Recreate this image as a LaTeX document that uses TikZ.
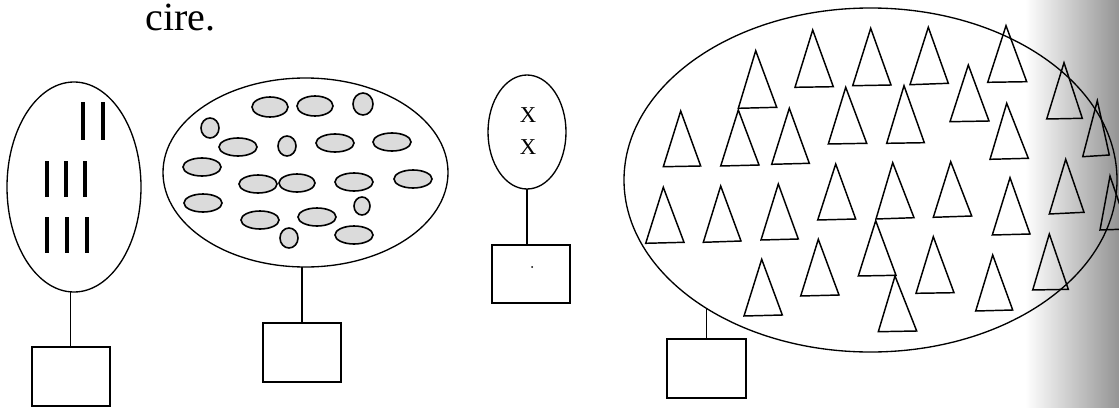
\documentclass[tikz,border=0pt]{standalone}
\usepackage{fontspec}
\setmainfont{Liberation Serif}
\usetikzlibrary{shapes.geometric}
\begin{document}
\begin{tikzpicture}[x=0.75pt,y=-0.75pt,
  bigell/.style={draw, ellipse, inner sep=0pt, outer sep=0pt, line width=1pt},
  answerbox/.style={draw, rectangle, inner sep=0pt, outer sep=0pt, line width=1.1pt, minimum width=58.5pt, minimum height=44pt},
  link/.style={line width=1.2pt},
  tally/.style={line width=2.3pt},
  blob/.style={draw, line width=1.2pt, fill=gray!28},
  tri/.style={draw, line width=1.1pt, line join=miter}
]
\useasboundingbox (0,0) rectangle (1119,407);
\clip (0,0) rectangle (1119,407);

% shaded page edge
\shade[left color=white, right color=black!42] (1025,0) rectangle (1119,407);

% heading fragment
\node[anchor=base west, inner sep=0pt, font=\fontsize{30}{34}\selectfont] (cire) at (145,31) {cire.};

% group 1: tally marks
\node[bigell, minimum width=100.5pt, minimum height=157.5pt] (e1) at (74,187) {};
\draw[tally] (83,102) -- (83,140);
\draw[tally] (103,102) -- (103,140);
\draw[tally] (47,161) -- (47,197);
\draw[tally] (66,161) -- (66,197);
\draw[tally] (85,161) -- (85,197);
\draw[tally] (47,217) -- (47,253);
\draw[tally] (67,217) -- (67,253);
\draw[tally] (87,217) -- (87,253);
\node[answerbox] (b1) at (71,376.5) {};
\draw[link] (e1.268) -- (e1.268 |- b1.north);

% group 2: grey blobs
\node[bigell, minimum width=213.75pt, minimum height=141.75pt] (e2) at (305.5,172.5) {};
\draw[blob] (270,107) ellipse [x radius=18, y radius=10];
\draw[blob] (315,106) ellipse [x radius=18, y radius=10];
\draw[blob] (363,104) ellipse [x radius=10, y radius=11];
\draw[blob] (210,128) ellipse [x radius=9, y radius=10];
\draw[blob] (238,147) ellipse [x radius=19, y radius=9];
\draw[blob] (287,146) ellipse [x radius=9, y radius=10];
\draw[blob] (335,143) ellipse [x radius=19, y radius=9];
\draw[blob] (392,142) ellipse [x radius=19, y radius=9];
\draw[blob] (202,167) ellipse [x radius=19, y radius=9];
\draw[blob] (258,184) ellipse [x radius=19, y radius=9];
\draw[blob] (297,183) ellipse [x radius=18, y radius=9];
\draw[blob] (354,182) ellipse [x radius=19, y radius=9];
\draw[blob] (413,179) ellipse [x radius=19, y radius=9];
\draw[blob] (203,203) ellipse [x radius=19, y radius=9];
\draw[blob] (362,206) ellipse [x radius=8, y radius=9];
\draw[blob] (260,220) ellipse [x radius=19, y radius=9];
\draw[blob] (317,217) ellipse [x radius=19, y radius=9];
\draw[blob] (289,238) ellipse [x radius=9, y radius=10];
\draw[blob] (354,235) ellipse [x radius=19, y radius=9];
\node[answerbox] (b2) at (302,352.5) {};
\draw[link] (b2.north) -- (b2.north |- e2.south);

% group 3: two crosses
\node[bigell, minimum width=58.5pt, minimum height=85.5pt] (e3) at (527,132) {};
\node[font=\fontsize{17}{20}\selectfont, inner sep=0pt] (x1) at (528,115) {X};
\node[font=\fontsize{17}{20}\selectfont, inner sep=0pt] (x2) at (528,147) {X};
\node[answerbox, minimum height=43.5pt] (b3) at (531,274) {};
\draw[link] (e3.south) -- (e3.south |- b3.north);
\fill (532,267) circle [radius=1];

% group 4: triangles
\node[bigell, minimum width=369.75pt, minimum height=258pt] (e4) at (870.5,180) {};
\draw[tri] (755.7,50.7) -- (738.3,108.3) -- (776.7,107.3) -- cycle;
\draw[tri] (812.7,30) -- (795,87.3) -- (833.3,86.7) -- cycle;
\draw[tri] (870.7,28.3) -- (852.7,85.7) -- (891,85) -- cycle;
\draw[tri] (928.3,27.3) -- (910,84.7) -- (948.3,83.3) -- cycle;
\draw[tri] (1006,25.7) -- (987.7,82.3) -- (1026.7,81.7) -- cycle;
\draw[tri] (968.3,65) -- (950,121.7) -- (989,121) -- cycle;
\draw[tri] (1064,62.7) -- (1046.7,119) -- (1082.3,118.3) -- cycle;
\draw[tri] (1097.3,100.7) -- (1082.7,156.7) -- (1109.3,155) -- cycle;
\draw[tri] (1006.7,103.3) -- (990,159.3) -- (1028.3,158.3) -- cycle;
\draw[tri] (845.7,87.3) -- (828.3,144) -- (866.7,143.3) -- cycle;
\draw[tri] (904,85.7) -- (886.7,143.3) -- (924.3,142.7) -- cycle;
\draw[tri] (680.7,111) -- (663.3,166.7) -- (700.7,166) -- cycle;
\draw[tri] (738.3,110) -- (720.7,166) -- (759,165) -- cycle;
\draw[tri] (789.3,108.3) -- (771.7,164.3) -- (809.3,163.3) -- cycle;
\draw[tri] (663.3,187.3) -- (645.7,243.3) -- (684,242.3) -- cycle;
\draw[tri] (720.7,186) -- (703.3,242.3) -- (741,241) -- cycle;
\draw[tri] (778.3,184) -- (761,240) -- (798.3,239) -- cycle;
\draw[tri] (835.7,164) -- (817.7,220) -- (855.7,219) -- cycle;
\draw[tri] (892.7,162.7) -- (876,219) -- (914,217.7) -- cycle;
\draw[tri] (950.7,161.7) -- (933.3,217.3) -- (971.7,216) -- cycle;
\draw[tri] (1010,177.7) -- (992.3,235) -- (1030,234) -- cycle;
\draw[tri] (1065.7,159.3) -- (1049.3,214) -- (1084,212.3) -- cycle;
\draw[tri] (1110,176) -- (1100,230) -- (1128,229) -- cycle;
\draw[tri] (818.3,239.3) -- (800.7,296) -- (839,295) -- cycle;
\draw[tri] (875.7,220.7) -- (858.3,276) -- (896,275.3) -- cycle;
\draw[tri] (895,276) -- (878.3,331.7) -- (916.7,331) -- cycle;
\draw[tri] (933.3,236.7) -- (916,293.3) -- (954,292.7) -- cycle;
\draw[tri] (761.7,259.3) -- (744,316) -- (782.3,315) -- cycle;
\draw[tri] (992.7,255) -- (975.7,311) -- (1012.7,310) -- cycle;
\draw[tri] (1049.3,234) -- (1032.7,290) -- (1068.3,289.3) -- cycle;
\node[answerbox, minimum width=59.25pt] (b4) at (706.5,368.5) {};
\path (e4.218) coordinate (c4);
\draw[link] (b4.north) -- (b4.north |- c4);
\end{tikzpicture}
\end{document}
